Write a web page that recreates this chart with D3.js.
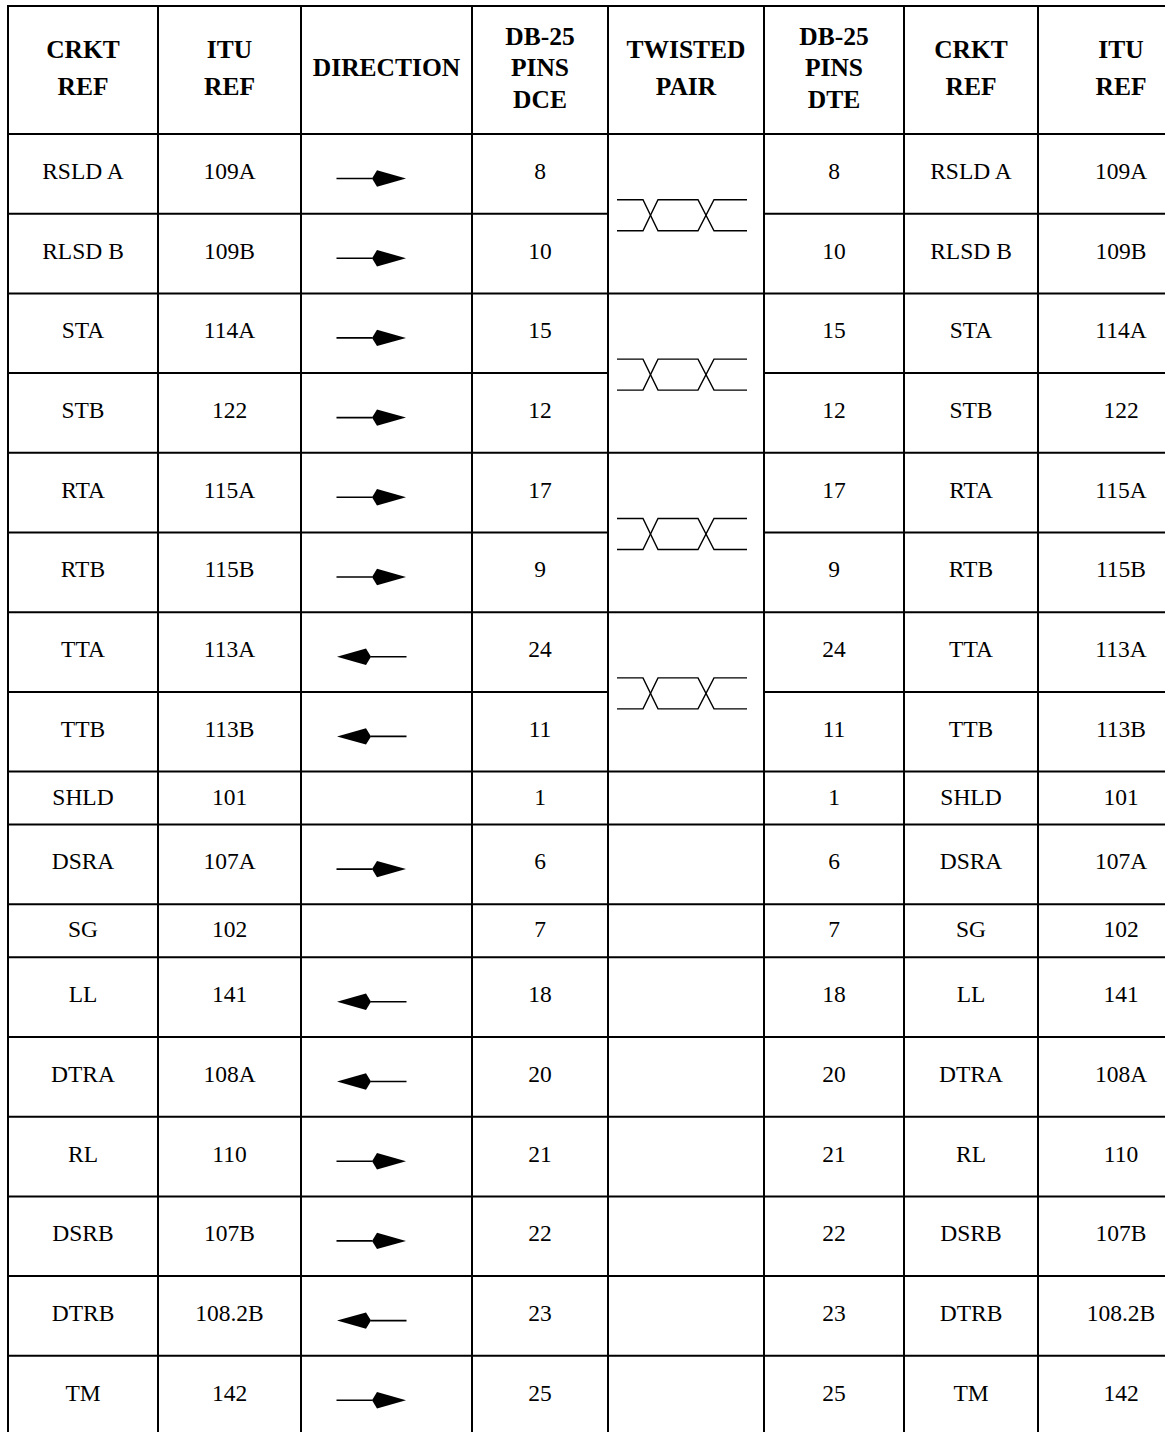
<!DOCTYPE html>
<html>
<head>
<meta charset="utf-8">
<script src="https://cdn.jsdelivr.net/npm/d3@7"></script>
<style>
  body { margin: 0; background: #fff; }
  svg { display: block; }
  text { font-family: "Liberation Serif", "Times New Roman", serif; fill: #000; }
</style>
</head>
<body>
<svg width="1165" height="1432"></svg>
<script>
// Table content
var headers = [["CRKT", "REF"], ["ITU", "REF"], ["DIRECTION"], ["DB-25", "PINS", "DCE"],
               ["TWISTED", "PAIR"], ["DB-25", "PINS", "DTE"], ["CRKT", "REF"], ["ITU", "REF"]];
var circuitRefs = ["RSLD A", "RLSD B", "STA", "STB", "RTA", "RTB", "TTA", "TTB", "SHLD",
                   "DSRA", "SG", "LL", "DTRA", "RL", "DSRB", "DTRB", "TM"];
var ituRefs = ["109A", "109B", "114A", "122", "115A", "115B", "113A", "113B", "101",
               "107A", "102", "141", "108A", "110", "107B", "108.2B", "142"];
var directions = ["right", "right", "right", "right", "right", "right", "left", "left", "",
                  "right", "", "left", "left", "right", "right", "left", "right"];
var dcePins = ["8", "10", "15", "12", "17", "9", "24", "11", "1", "6", "7", "18", "20", "21", "22", "23", "25"];
var dtePins = ["8", "10", "15", "12", "17", "9", "24", "11", "1", "6", "7", "18", "20", "21", "22", "23", "25"];
var twistedPairs = [[0, 1], [2, 3], [4, 5], [6, 7]];

var svg = d3.select("svg");

// column edges (left border ... right border, last one runs off the page)
var colEdges = [8, 158, 301, 472, 608, 764, 904, 1038, 1204];
var top0 = 6, headerBottom = 134;
var tallRow = 79.7, shortRow = 53;

function colMid(i) { return (colEdges[i] + colEdges[i + 1]) / 2; }

// row positions: rows carrying an arrow are tall, the rest are short
var rowH = directions.map(function(d) { return d ? tallRow : shortRow; });
var rowTop = [];
var acc = headerBottom;
rowH.forEach(function(h) { rowTop.push(acc); acc += h; });
var tableBottom = acc;

var rows = circuitRefs.map(function(c, i) {
  return { i: i, cells: [c, ituRefs[i], null, dcePins[i], null, dtePins[i], c, ituRefs[i]],
           dir: directions[i], top: rowTop[i], h: rowH[i] };
});

var grid = svg.append("g").attr("class", "grid")
  .attr("stroke", "#000").attr("stroke-width", 2).attr("fill", "none");

// vertical lines
grid.selectAll("line.v").data(colEdges).enter().append("line")
  .attr("class", "v")
  .attr("x1", function(d) { return d; }).attr("x2", function(d) { return d; })
  .attr("y1", top0 - 1).attr("y2", tableBottom + 1);

// horizontal lines
var pairInner = twistedPairs.map(function(p) { return p[1]; });
var hLines = [{ y: top0, split: false }, { y: headerBottom, split: false }];
rows.forEach(function(r) {
  if (r.i === 0) return;
  hLines.push({ y: r.top, split: pairInner.indexOf(r.i) >= 0 });
});
hLines.push({ y: tableBottom, split: false });

hLines.forEach(function(l) {
  var segs = l.split ? [[colEdges[0], colEdges[4]], [colEdges[5], colEdges[8]]] : [[colEdges[0] - 1, colEdges[8]]];
  segs.forEach(function(s) {
    grid.append("line").attr("x1", s[0]).attr("x2", s[1]).attr("y1", l.y).attr("y2", l.y);
  });
});

// header
var head = svg.append("g").attr("class", "header");
headers.forEach(function(lines, c) {
  var n = lines.length;
  var gap = n === 2 ? 37 : 31.5;
  var first = 76 - (n - 1) * gap / 2;
  lines.forEach(function(t, k) {
    head.append("text")
      .attr("x", colMid(c)).attr("y", first + k * gap)
      .attr("text-anchor", "middle")
      .attr("font-weight", "bold").attr("font-size", 25.5)
      .text(t);
  });
});

// body text
var body = svg.append("g").attr("class", "body");
rows.forEach(function(r) {
  var base = r.top + r.h / 2 + (r.dir ? 5 : 6.5);
  r.cells.forEach(function(t, c) {
    if (t == null) return;
    body.append("text")
      .attr("x", colMid(c)).attr("y", base)
      .attr("text-anchor", "middle").attr("font-size", 23.5)
      .text(t);
  });
});

// direction arrows
var arrows = svg.append("g").attr("class", "arrows");
rows.filter(function(r) { return r.dir; }).forEach(function(r) {
  var cy = r.top + 44.5;
  var cx = colMid(2) - 15;
  var s = r.dir === "right" ? 1 : -1;
  var g = arrows.append("g").attr("transform", "translate(" + cx + "," + cy + ") scale(" + s + ",1)");
  g.append("line").attr("x1", -35).attr("x2", 1).attr("y1", 0).attr("y2", 0)
    .attr("stroke", "#000").attr("stroke-width", 1.6);
  g.append("path")
    .attr("d", d3.line()([[0.5, 0], [5.5, -8.2], [34.5, 0], [5.5, 8.2]]) + "Z")
    .attr("fill", "#000");
});

// twisted pair symbols
var tp = svg.append("g").attr("class", "twisted")
  .attr("stroke", "#000").attr("stroke-width", 1.4).attr("fill", "none");
var wx = [9, 35, 50, 90, 106, 139].map(function(d) { return colEdges[4] + d; });
twistedPairs.forEach(function(p) {
  var cy = rowTop[p[1]] + 1.5;
  var up = cy - 15.5, dn = cy + 15.5;
  var line = d3.line();
  tp.append("path").attr("d", line([[wx[0], up], [wx[1], up], [wx[2], dn], [wx[3], dn], [wx[4], up], [wx[5], up]]));
  tp.append("path").attr("d", line([[wx[0], dn], [wx[1], dn], [wx[2], up], [wx[3], up], [wx[4], dn], [wx[5], dn]]));
});
</script>
</body>
</html>
